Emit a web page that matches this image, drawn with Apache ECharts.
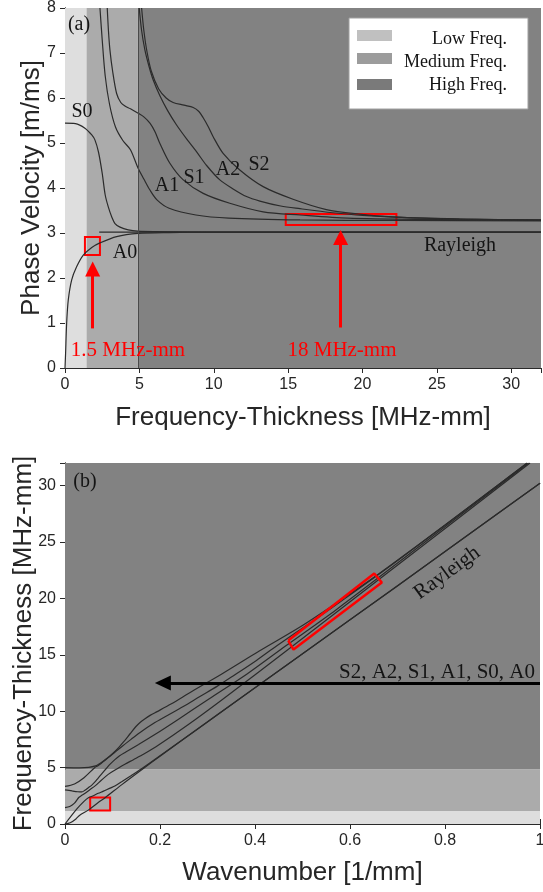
<!DOCTYPE html>
<html>
<head>
<meta charset="utf-8">
<script src="https://cdn.jsdelivr.net/npm/echarts@6/dist/echarts.min.js"></script>
<style>
  html, body { margin: 0; padding: 0; background: #fff; }
  #chart { width: 543px; height: 892px; }
</style>
</head>
<body>
<div id="chart"></div>
<script>
// (a) phase velocity [m/ms] vs frequency-thickness [MHz-mm]
const a0Fd = [0, 0.04, 0.11, 0.22, 0.45, 0.78, 1.23, 1.8, 2.35, 3.47, 4.92, 7, 10, 20, 32];
const a0V = [0, 0.33, 0.99, 1.51, 1.96, 2.25, 2.51, 2.68, 2.78, 2.92, 2.99, 3.01, 3.02, 3.02, 3.02];
const s0Fd = [0, 0.7, 1.34, 1.8, 2.01, 2.25, 2.5, 2.7, 2.91, 3.15, 3.36, 3.7, 4.25, 4.9, 6, 10, 32];
const s0V = [5.44, 5.43, 5.33, 5.18, 5.07, 4.8, 4.33, 3.85, 3.58, 3.35, 3.21, 3.13, 3.07, 3.04, 3.03, 3.02, 3.02];
const a1Fd = [2.35, 2.5, 2.7, 3.0, 3.4, 3.9, 4.4, 4.9, 5.3, 5.7, 6.2, 7.0, 8.8, 11, 15.8, 22, 32];
const a1V = [8.0, 7.3, 6.5, 5.85, 5.35, 5.05, 4.85, 4.45, 4.2, 3.96, 3.73, 3.55, 3.4, 3.33, 3.29, 3.28, 3.27];
const s1Fd = [2.84, 2.92, 3.02, 3.2, 3.47, 3.75, 4.03, 4.4, 4.92, 5.3, 5.71, 6.05, 6.38, 7.05, 7.95, 9.29, 11.08, 13.32, 15.8, 19, 25, 32];
const s1V = [8.0, 7.5, 7.07, 6.6, 6.1, 5.9, 5.82, 5.76, 5.66, 5.58, 5.44, 5.25, 4.99, 4.55, 4.18, 3.88, 3.66, 3.47, 3.4, 3.33, 3.3, 3.28];
const a2Fd = [4.99, 5.15, 5.37, 5.65, 5.93, 6.38, 6.9, 7.5, 8.2, 8.9, 9.52, 10.41, 11.3, 12.2, 13.1, 14.5, 15.8, 18, 20, 23, 27, 32];
const a2V = [8.0, 7.5, 7.07, 6.7, 6.4, 6.05, 5.72, 5.4, 5.08, 4.78, 4.5, 4.18, 3.98, 3.81, 3.71, 3.6, 3.54, 3.45, 3.39, 3.34, 3.31, 3.29];
const s2Fd = [5.15, 5.3, 5.5, 5.8, 6.3, 6.8, 7.27, 8.0, 8.62, 9.0, 9.29, 9.65, 9.96, 10.63, 11.75, 13.32, 15.33, 17.57, 19.8, 22, 26.5, 32];
const s2V = [8.0, 7.5, 7.05, 6.6, 6.2, 6.0, 5.9, 5.84, 5.79, 5.7, 5.56, 5.35, 5.14, 4.77, 4.4, 4.03, 3.75, 3.52, 3.42, 3.36, 3.31, 3.29];
const rayFd = [2.3, 32];
const rayV = [3.02, 3.02];

// (b) frequency-thickness [MHz-mm] vs wavenumber [1/mm]
const a0K = [0, 0.011, 0.023, 0.031, 0.049, 0.07, 0.085, 0.119, 0.165, 0.2, 0.3, 0.5, 0.7, 0.9, 1.0];
const a0F = [0, 0.11, 0.45, 0.78, 1.23, 1.9, 2.35, 3.47, 4.92, 6.0, 9.05, 15.1, 21.1, 27.2, 30.2];
const s0K = [0, 0.025, 0.04, 0.05, 0.057, 0.07, 0.081, 0.095, 0.105, 0.12, 0.138, 0.162, 0.2, 0.33, 0.6, 1.0];
const s0F = [0, 1.34, 2.01, 2.35, 2.46, 2.72, 2.91, 3.18, 3.36, 3.76, 4.25, 4.92, 6.05, 9.97, 18.1, 30.2];
const a1K = [0, 0.01, 0.02, 0.029, 0.034, 0.0415, 0.051, 0.064, 0.077, 0.091, 0.11, 0.126, 0.144, 0.166, 0.197, 0.259, 0.33, 0.48, 0.671, 0.979];
const a1F = [1.45, 1.55, 1.85, 2.35, 2.5, 2.7, 3.0, 3.4, 3.9, 4.4, 4.9, 5.3, 5.7, 6.2, 7.0, 8.8, 11.0, 15.8, 22.0, 32.0];
const s1K = [0, 0.015, 0.027, 0.0355, 0.0427, 0.0485, 0.057, 0.0636, 0.069, 0.0764, 0.087, 0.095, 0.105, 0.115, 0.128, 0.155, 0.19, 0.239, 0.303, 0.384, 0.465, 0.571, 0.758, 0.976];
const s1F = [3.03, 2.93, 2.86, 2.84, 3.02, 3.2, 3.47, 3.75, 4.03, 4.4, 4.92, 5.3, 5.71, 6.05, 6.38, 7.05, 7.95, 9.29, 11.08, 13.32, 15.8, 19.0, 25.0, 32.0];
const a2K = [0, 0.02, 0.04, 0.0624, 0.0687, 0.076, 0.0843, 0.0927, 0.1055, 0.1206, 0.139, 0.161, 0.186, 0.2116, 0.249, 0.284, 0.32, 0.353, 0.403, 0.446, 0.522, 0.59, 0.689, 0.816, 0.973];
const a2F = [3.33, 3.55, 4.1, 4.99, 5.15, 5.37, 5.65, 5.93, 6.38, 6.9, 7.5, 8.2, 8.9, 9.52, 10.41, 11.3, 12.2, 13.1, 14.5, 15.8, 18, 20, 23, 27, 32];
const s2K = [0, 0.03, 0.05, 0.0644, 0.0707, 0.078, 0.0879, 0.1016, 0.1133, 0.1232, 0.137, 0.1489, 0.158, 0.167, 0.18, 0.194, 0.223, 0.267, 0.331, 0.409, 0.499, 0.579, 0.655, 0.8, 0.973];
const s2F = [5.0, 4.98, 5.02, 5.15, 5.3, 5.5, 5.8, 6.3, 6.8, 7.27, 8.0, 8.62, 9.0, 9.29, 9.65, 9.96, 10.63, 11.75, 13.32, 15.33, 17.57, 19.8, 22, 26.5, 32];

// frequency bands
const bandsA = [0, 1.45, 4.9, 32];
const bandsB = [0, 1.15, 4.85, 32];
const bandNames = ['Low Freq.', 'Medium Freq.', 'High Freq.'];

// red highlight boxes [x0, y0, x1, y1] and arrows [x, yFrom, yTo]
const boxA = [[1.34, 2.51, 2.35, 2.91], [14.84, 3.18, 22.28, 3.42]];
const arrowsA = [[1.86, 0.88, 2.2], [18.53, 0.9, 2.9]];
const boxBSmall = [0.053, 1.19, 0.095, 2.35];
const boxBK = [0.470, 0.481, 0.667, 0.651, 0.470];
const boxBF = [16.26, 15.46, 21.41, 22.21, 16.26];
const arrowB = [1.0, 0.206, 12.49];

const zip = (xs, ys) => xs.map((x, i) => [x, ys[i]]);

const axisColor = '#2a2a2a';
const tickFont = { fontSize: 16, color: '#262626', fontFamily: 'Liberation Sans' };
const titleFont = { fontSize: 26, color: '#262626', fontFamily: 'Liberation Sans' };

function valueAxis(grid, pos, min, max, interval, labels, showMax, extra) {
  return Object.assign({
    type: 'value',
    gridIndex: grid,
    position: pos,
    min: min,
    max: max,
    interval: interval,
    nameMoveOverlap: false,
    axisLine: { show: true, lineStyle: { color: axisColor, width: 1 } },
    axisTick: { show: true, inside: true, length: 5, lineStyle: { color: axisColor } },
    axisLabel: Object.assign({ show: labels, margin: 9, showMaxLabel: showMax }, tickFont),
    splitLine: { show: false },
  }, extra || {});
}

function curve(data, xi, yi) {
  return {
    type: 'line',
    xAxisIndex: xi,
    yAxisIndex: yi,
    data: data,
    showSymbol: false,
    smooth: 0.3,
    silent: true,
    lineStyle: { color: '#2b2b2b', width: 1.2 },
    z: 3,
  };
}

function bands(edges, dim, colors) {
  const out = [];
  for (let i = 0; i < edges.length - 1; i++) {
    const a = {}, b = {};
    a[dim] = edges[i];
    b[dim] = edges[i + 1];
    a.itemStyle = { color: colors[i] };
    out.push([a, b]);
  }
  return out;
}

const bandColors = ['#dedede', '#ababab', '#828282'];
const legendColors = ['#c0c0c0', '#9c9c9c', '#7a7a7a'];
const redBox = { color: 'rgba(0,0,0,0)', borderColor: '#ff0000', borderWidth: 2 };

const txt = (s, x, y, font, fill, align, rot) => ({
  type: 'text', x: x, y: y, z: 10, silent: true, rotation: rot || 0,
  style: { text: s, fill: fill || '#141414', font: font || '20px "Liberation Serif"', align: align || 'center', verticalAlign: 'middle' },
});

const myChart = echarts.init(document.getElementById('chart'), null, { renderer: 'canvas' });

myChart.setOption({
  animation: false,
  backgroundColor: '#ffffff',
  grid: [
    { left: 65, top: 8, width: 476, height: 360, outerBoundsMode: 'none', containLabel: false },
    { left: 65, top: 463, width: 475, height: 361, outerBoundsMode: 'none', containLabel: false },
  ],
  xAxis: [
    valueAxis(0, 'bottom', 0, 32, 5, true, false, {
      name: 'Frequency-Thickness [MHz-mm]', nameLocation: 'middle', nameGap: 37, nameTextStyle: titleFont,
    }),
    valueAxis(0, 'top', 0, 32, 5, false, false),
    valueAxis(1, 'bottom', 0, 1, 0.2, true, true, {
      name: 'Wavenumber [1/mm]', nameLocation: 'middle', nameGap: 36, nameTextStyle: titleFont,
    }),
    valueAxis(1, 'top', 0, 1, 0.2, false, false),
  ],
  yAxis: [
    valueAxis(0, 'left', 0, 8, 1, true, true, {
      name: 'Phase Velocity [m/ms]', nameLocation: 'middle', nameGap: 20, nameTextStyle: titleFont,
    }),
    valueAxis(0, 'right', 0, 8, 1, false, false),
    valueAxis(1, 'left', 0, 32, 5, true, false, {
      name: 'Frequency-Thickness [MHz-mm]', nameLocation: 'middle', nameGap: 28, nameTextStyle: titleFont,
    }),
    valueAxis(1, 'right', 0, 32, 5, false, false),
  ],
  series: [
    // (a) background bands
    {
      type: 'line', xAxisIndex: 0, yAxisIndex: 0, data: [], silent: true, z: 0,
      markArea: { silent: true, data: bands(bandsA, 'xAxis', bandColors) },
      markLine: {
        silent: true, symbol: 'none', label: { show: false },
        lineStyle: { color: '#4a4a4a', width: 1, type: 'solid' },
        data: [{ xAxis: bandsA[2] }],
      },
    },
    // (b) background bands
    {
      type: 'line', xAxisIndex: 2, yAxisIndex: 2, data: [], silent: true, z: 0,
      markArea: { silent: true, data: bands(bandsB, 'yAxis', bandColors) },
    },
    curve(zip(a0Fd, a0V), 0, 0),
    curve(zip(s0Fd, s0V), 0, 0),
    curve(zip(a1Fd, a1V), 0, 0),
    curve(zip(s1Fd, s1V), 0, 0),
    curve(zip(a2Fd, a2V), 0, 0),
    curve(zip(s2Fd, s2V), 0, 0),
    curve(zip(rayFd, rayV), 0, 0),
    curve(zip(a0K, a0F), 2, 2),
    curve(zip(s0K, s0F), 2, 2),
    curve(zip(a1K, a1F), 2, 2),
    curve(zip(s1K, s1F), 2, 2),
    curve(zip(a2K, a2F), 2, 2),
    curve(zip(s2K, s2F), 2, 2),
    // (a) red annotations
    {
      type: 'line', xAxisIndex: 0, yAxisIndex: 0, data: [], silent: true, z: 5,
      markArea: {
        silent: true,
        data: boxA.map(b => [{ coord: [b[0], b[1]], itemStyle: redBox }, { coord: [b[2], b[3]] }]),
      },
      markLine: {
        silent: true, symbol: ['none', 'triangle'], symbolSize: [15, 15], label: { show: false },
        lineStyle: { color: '#ff0000', width: 3, type: 'solid' },
        data: arrowsA.map(a => [{ coord: [a[0], a[1]] }, { coord: [a[0], a[2]] }]),
      },
    },
    // (b) annotations
    {
      type: 'line', xAxisIndex: 2, yAxisIndex: 2, data: zip(boxBK, boxBF), silent: true, z: 5,
      showSymbol: false,
      lineStyle: { color: '#ff0000', width: 2.5 },
      markArea: {
        silent: true,
        data: [[{ coord: [boxBSmall[0], boxBSmall[1]], itemStyle: redBox }, { coord: [boxBSmall[2], boxBSmall[3]] }]],
      },
      markLine: {
        silent: true, symbol: ['none', 'triangle'], symbolSize: [15, 16], label: { show: false },
        lineStyle: { color: '#000000', width: 3, type: 'solid' },
        data: [[{ coord: [arrowB[0], arrowB[2]] }, { coord: [arrowB[1], arrowB[2]] }]],
      },
    },
  ],
  graphic: [
    // mode labels in (a)
    txt('S0', 82, 112), txt('A1', 167, 186), txt('S1', 194, 178), txt('A2', 228, 170), txt('S2', 259, 165),
    txt('A0', 125, 253), txt('Rayleigh', 460, 246), txt('(a)', 79, 25),
    txt('1.5 MHz-mm', 128, 350, '21px "Liberation Serif"', '#ff0000'),
    txt('18 MHz-mm', 342, 350, '21px "Liberation Serif"', '#ff0000'),
    // legend box
    {
      type: 'rect', z: 10, silent: true,
      shape: { x: 349, y: 18, width: 179, height: 91 },
      style: { fill: '#ffffff', stroke: '#a0a0a0', lineWidth: 1 },
    },
    ...bandNames.map((n, i) => ({
      type: 'rect', z: 11, silent: true,
      shape: { x: 357, y: [30, 53, 79][i], width: 35, height: 11 },
      style: { fill: legendColors[i] },
    })),
    ...bandNames.map((n, i) => txt(n, 507, [39, 62, 85][i], '18px "Liberation Serif"', '#141414', 'right')),
    // labels in (b)
    txt('(b)', 85, 482),
    txt('S2, A2, S1, A1, S0, A0', 535, 672, '21px "Liberation Serif"', '#141414', 'right'),
    txt('Rayleigh', 447, 573, '21px "Liberation Serif"', '#141414', 'center', 0.63),
  ],
});
</script>
</body>
</html>
